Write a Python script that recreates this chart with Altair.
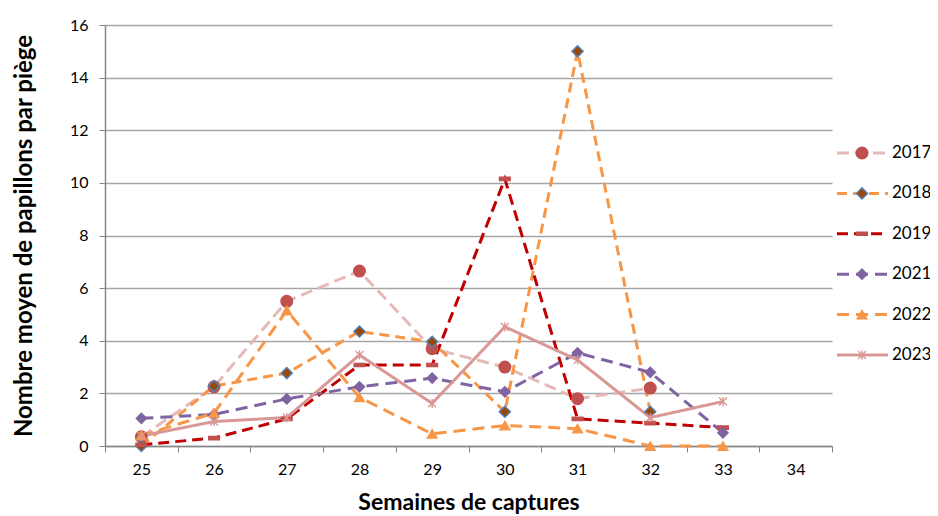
import altair as alt
import pandas as pd

weeks = [25, 26, 27, 28, 29, 30, 31, 32, 33, 34]
series = ["2017", "2018", "2019", "2021", "2022", "2023"]

v2017 = [0.35, 2.25, 5.5, 6.65, 3.7, 3.0, 1.8, 2.2, None]
v2018 = [0.0, 2.28, 2.77, 4.35, 3.96, 1.3, 15.0, 1.3, None]
v2019 = [0.05, 0.3, 1.03, 3.08, 3.08, 10.15, 1.03, 0.87, 0.7]
v2021 = [1.05, 1.2, 1.79, 2.25, 2.58, 2.06, 3.54, 2.8, 0.5]
v2022 = [0.4, 1.25, 5.15, 1.85, 0.46, 0.78, 0.66, 0.0, 0.0]
v2023 = [0.38, 0.93, 1.08, 3.46, 1.62, 4.53, 3.27, 1.08, 1.69]

values = {"2017": v2017, "2018": v2018, "2019": v2019,
          "2021": v2021, "2022": v2022, "2023": v2023}

line_colors = ["#E6B9B8", "#F79646", "#C00000", "#8064A2", "#F79646", "#D99795"]
line_dash = [[12, 6], [10, 6], [11, 6], [12, 7], [12, 7], [1, 0]]
line_width = [3, 3, 3, 3, 3, 4]
shapes = ["circle", "diamond", "M-1,-0.3L1,-0.3L1,0.3L-1,0.3Z",
          "diamond", "triangle-up",
          "M0,-1L0,1M-0.85,-0.85L0.85,0.85M-0.85,0.85L0.85,-0.85"]
fills = ["#C0504D", "#984807", "#C0504D", "#8064A2", "#F79646", "transparent"]
strokes = ["#C0504D", "#4F81BD", "#C0504D", "#8064A2", "#F79646", "#D99795"]
sizes = [135, 85, 140, 230, 230, 220]

rows = []
for s in series:
    for w, v in zip(weeks, values[s]):
        if v is not None:
            rows.append({"week": str(w), "value": v, "series": s})
df = pd.DataFrame(rows)

FONT = "Lato"

def sc(rng):
    return alt.Scale(domain=series, range=rng)

x_enc = alt.X("week:O", bandPosition=0.5,
              scale=alt.Scale(type="band", domain=[str(w) for w in weeks],
                              paddingInner=0, paddingOuter=0),
              axis=alt.Axis(title="Semaines de captures", tickBand="extent",
                            labelAngle=0, labelFontSize=16, labelColor="#000",
                            labelPadding=9, tickSize=6, tickColor="#868686",
                            domainColor="#868686", domainWidth=1.5,
                            titleFontSize=23, titleFontWeight="bold",
                            titleColor="#000", titlePadding=14, grid=False))
y_enc = alt.Y("value:Q",
              scale=alt.Scale(domain=[0, 16], nice=False),
              axis=alt.Axis(title="Nombre moyen de papillons par piège",
                            values=list(range(0, 17, 2)), labelFontSize=16,
                            labelColor="#000", labelPadding=11, tickSize=6,
                            tickColor="#868686", domainColor="#868686",
                            domainWidth=1.5, gridColor="#A6A6A6",
                            gridWidth=1.5, titleFontSize=24,
                            titleFontWeight="bold", titleColor="#000",
                            titlePadding=33))

lines = alt.Chart(df).mark_line().encode(
    x=x_enc, y=y_enc,
    detail="series:N",
    color=alt.Color("series:N", scale=sc(line_colors), legend=None),
    strokeDash=alt.StrokeDash("series:N", scale=sc(line_dash), legend=None),
    strokeWidth=alt.StrokeWidth("series:N", scale=sc(line_width), legend=None),
)
points = alt.Chart(df).mark_point(opacity=1, strokeWidth=1.4).encode(
    x=x_enc, y=y_enc,
    shape=alt.Shape("series:N", scale=sc(shapes), legend=None),
    fill=alt.Fill("series:N", scale=sc(fills), legend=None),
    stroke=alt.Stroke("series:N", scale=sc(strokes), legend=None),
    size=alt.Size("series:N", scale=sc(sizes), legend=None),
)
main = alt.layer(lines, points)

leg_df = pd.DataFrame({"series": series})
ly = alt.Y("series:N", scale=alt.Scale(type="point", domain=series,
                                       range=[128, 330], padding=0), axis=None)
leg_line = alt.Chart(leg_df).mark_rule().encode(
    x=alt.value(732), x2=alt.value(783), y=ly,
    color=alt.Color("series:N", scale=sc(line_colors), legend=None),
    strokeDash=alt.StrokeDash("series:N", scale=sc(line_dash), legend=None),
    strokeWidth=alt.StrokeWidth("series:N", scale=sc(line_width), legend=None),
)
leg_pt = alt.Chart(leg_df).mark_point(opacity=1, strokeWidth=1.4).encode(
    x=alt.value(757), y=ly,
    shape=alt.Shape("series:N", scale=sc(shapes), legend=None),
    fill=alt.Fill("series:N", scale=sc(fills), legend=None),
    stroke=alt.Stroke("series:N", scale=sc(strokes), legend=None),
    size=alt.Size("series:N", scale=sc(sizes), legend=None),
)
leg_txt = alt.Chart(leg_df).mark_text(align="left", baseline="middle",
                                       fontSize=17, font=FONT, color="#000").encode(
    x=alt.value(787), y=ly, text="series:N")
legend = alt.layer(leg_line, leg_pt, leg_txt)

chart = alt.layer(main, legend).resolve_scale(y="independent").properties(
    width=727, height=421,
    autosize=alt.AutoSizeParams(type="none"),
    padding={"left": 97, "top": 17, "right": 98, "bottom": 70},
).configure(font=FONT).configure_view(stroke=None)

chart.save("out.html", embed_options={"renderer": "svg", "actions": False})
